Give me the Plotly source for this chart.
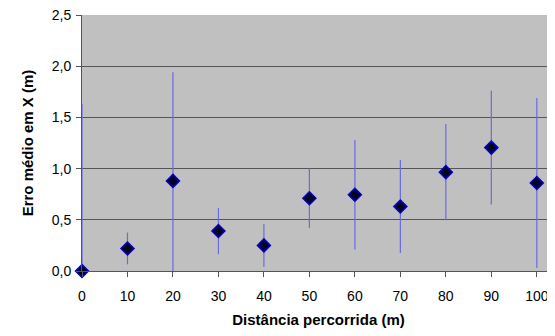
import plotly.graph_objects as go

distancia = [0, 10, 20, 30, 40, 50, 60, 70, 80, 90, 100]
erro_medio = [0.0, 0.22, 0.88, 0.39, 0.25, 0.71, 0.745, 0.63, 0.965, 1.205, 0.86]
desvio = [1.63, 0.155, 1.06, 0.225, 0.21, 0.29, 0.535, 0.455, 0.47, 0.555, 0.83]
y_ticks = [0, 0.5, 1.0, 1.5, 2.0, 2.5]
y_tick_labels = ["0,0", "0,5", "1,0", "1,5", "2,0", "2,5"]
x_ticks = [0, 10, 20, 30, 40, 50, 60, 70, 80, 90, 100]

fig = go.Figure()
fig.add_trace(go.Scatter(
    x=distancia, y=erro_medio, mode="markers",
    marker=dict(symbol="diamond", size=10, color="#000022",
                line=dict(color="#0000cc", width=1.5)),
    error_y=dict(type="data", array=desvio, visible=True,
                 color="#6a6ae0", thickness=1.2, width=0),
    cliponaxis=False, showlegend=False,
))

# page body has an 8px default margin, so the figure is shrunk to fit
fig.update_layout(
    width=547, height=320,
    margin=dict(l=74, r=0, t=7, b=57),
    paper_bgcolor="white", plot_bgcolor="#c0c0c0",
    font=dict(family="Liberation Sans, Arial, sans-serif", size=14, color="black"),
    xaxis=dict(
        range=[0, 104], tickvals=x_ticks, ticks="outside", ticklen=5,
        tickcolor="#555", showgrid=False, zeroline=False,
        showline=True, linecolor="#555", linewidth=1,
        ticklabelstandoff=7, automargin=False, ticklabeloverflow="allow",
        title=dict(text="<b>Distância percorrida (m)</b>", font=dict(size=15), standoff=11),
    ),
    yaxis=dict(
        range=[0, 2.5], tickvals=y_ticks, ticktext=y_tick_labels,
        ticks="outside", ticklen=5, tickcolor="#555",
        showgrid=True, gridcolor="#555", gridwidth=1, zeroline=False,
        showline=True, linecolor="#555", linewidth=1,
        ticklabelstandoff=2, automargin=False, ticklabeloverflow="allow",
        title=dict(text="<b>Erro médio em X (m)</b>", font=dict(size=15), standoff=14),
    ),
)

fig.write_html("out.html")
